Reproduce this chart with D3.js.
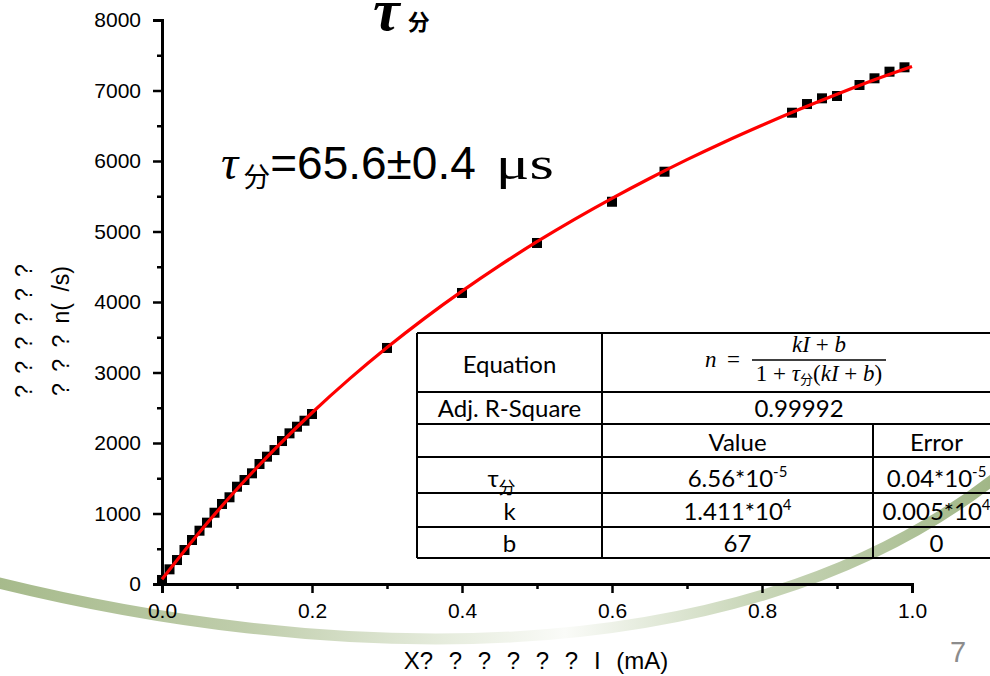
<!DOCTYPE html>
<html>
<head>
<meta charset="utf-8">
<script src="https://cdn.jsdelivr.net/npm/d3@7"></script>
<style>
  body { margin: 0; background: #fff; }
  svg { display: block; }
</style>
</head>
<body>
<div id="chart"></div>
<script>
// measured points: current I (mA) vs count rate n (/s)
var currentI = [0, 0.01, 0.02, 0.03, 0.04, 0.05, 0.06, 0.07, 0.08, 0.09, 0.10,
  0.11, 0.12, 0.13, 0.14, 0.15, 0.16, 0.17, 0.18, 0.19, 0.20,
  0.30, 0.40, 0.50, 0.60, 0.67, 0.84, 0.86, 0.88, 0.90, 0.93, 0.95, 0.97, 0.99]
var countRate = [57, 208, 340, 482, 624, 756, 870, 1011, 1135, 1230, 1380,
  1475, 1570, 1702, 1806, 1900, 2028, 2137, 2231, 2316, 2411,
  3348, 4128, 4837, 5422, 5848, 6685, 6808, 6889, 6922, 7078, 7173, 7267, 7329]

// red fit curve
var fitI = [0, 0.05, 0.1, 0.15, 0.2, 0.25, 0.3, 0.35, 0.4, 0.45, 0.5,
  0.55, 0.6, 0.65, 0.7, 0.75, 0.8, 0.85, 0.9, 0.95, 1.0]
var fitN = [67, 735, 1347, 1910, 2429, 2909, 3354, 3768, 4154, 4516, 4855,
  5172, 5470, 5752, 6019, 6270, 6507, 6733, 6947, 7152, 7340]

var yTicks = [0, 1000, 2000, 3000, 4000, 5000, 6000, 7000, 8000]
var xTicks = [0, 0.2, 0.4, 0.6, 0.8, 1.0]

// fit table
var rowLabels = ["Equation", "Adj. R-Square", "", "τ", "k", "b"]
var valueCells = [null, ["0.99992"], ["Value"], ["6.56*10", "-5"], ["1.411*10", "4"], ["67"]]
var errorCells = [null, null, ["Error"], ["0.04*10", "-5"], ["0.005*10", "4"], ["0"]]

var width = 990, height = 676

var svg = d3.select('#chart')
  .append('svg')
  .attr('width', width)
  .attr('height', height)

svg.append('rect').attr('width', width).attr('height', height).attr('fill', '#fff')

// decorative green swoosh behind the chart
var defs = svg.append('defs')
var grad = defs.append('linearGradient').attr('id', 'swoosh')
  .attr('x1', '0%').attr('x2', '100%').attr('y1', '0%').attr('y2', '0%')
grad.append('stop').attr('offset', '0%').attr('stop-color', '#a6ba8b')
grad.append('stop').attr('offset', '25%').attr('stop-color', '#bfcdab')
grad.append('stop').attr('offset', '45%').attr('stop-color', '#e6ecdd')
grad.append('stop').attr('offset', '57%').attr('stop-color', '#fafbf8')
grad.append('stop').attr('offset', '75%').attr('stop-color', '#cbd8bb')
grad.append('stop').attr('offset', '100%').attr('stop-color', '#a0b686')

svg.append('path')
  .attr('d', 'M -5,582 C 310,660 730,685 995,478')
  .attr('fill', 'none')
  .attr('stroke', 'url(#swoosh)')
  .attr('stroke-width', 11)

var x = d3.scaleLinear().domain([0, 1]).range([162, 912])
var y = d3.scaleLinear().domain([0, 8000]).range([584, 20])

// axes
var yMinor = svg.append('g')
  .attr('transform', 'translate(162,0)')
  .call(d3.axisLeft(y).tickValues(d3.range(500, 8000, 1000)).tickSize(5).tickFormat(''))
var yAxis = svg.append('g')
  .attr('transform', 'translate(162,0)')
  .call(d3.axisLeft(y).tickValues(yTicks).tickSize(9).tickPadding(12).tickFormat(d3.format('d')))

var xMinor = svg.append('g')
  .attr('transform', 'translate(0,584)')
  .call(d3.axisBottom(x).tickValues([0.1, 0.3, 0.5, 0.7, 0.9]).tickSize(5).tickFormat(''))
var xAxis = svg.append('g')
  .attr('transform', 'translate(0,584)')
  .call(d3.axisBottom(x).tickValues(xTicks).tickSize(9).tickPadding(10).tickFormat(d3.format('.1f')))

svg.selectAll('.domain').attr('stroke', '#000').attr('stroke-width', 3)
svg.selectAll('.tick line').attr('stroke', '#000').attr('stroke-width', 2.5)
yMinor.select('.domain').remove()
xMinor.select('.domain').remove()
yAxis.selectAll('text').style('font-family', 'Liberation Sans, Arial, sans-serif').style('font-size', '21px').attr('fill', '#000')
xAxis.selectAll('text').style('font-family', 'Liberation Sans Narrow, Liberation Sans, Arial, sans-serif').style('font-size', '21px').attr('fill', '#000')

// data points
svg.append('g')
  .selectAll('rect')
  .data(currentI)
  .enter()
  .append('rect')
  .attr('x', function (d) { return x(d) - 5 })
  .attr('y', function (d, i) { return y(countRate[i]) - 5 })
  .attr('width', 10)
  .attr('height', 10)
  .attr('fill', '#000')

// fit line
var line = d3.line()
  .x(function (d) { return x(d) })
  .y(function (d, i) { return y(fitN[i]) })
  .curve(d3.curveCatmullRom)
svg.append('path')
  .datum(fitI)
  .attr('d', line)
  .attr('fill', 'none')
  .attr('stroke', '#ff0000')
  .attr('stroke-width', 3.2)

// title (cut at top as in the slide)
var title = svg.append('text').attr('x', 373).attr('y', 30)
title.append('tspan').text('τ')
  .style('font-family', 'Liberation Serif, Times New Roman, serif')
  .style('font-style', 'italic').style('font-weight', 'bold').style('font-size', '60px')
title.append('tspan').text('分').attr('dx', 8)
  .style('font-family', 'Noto Sans CJK SC, sans-serif').style('font-weight', 'bold').style('font-size', '22px')

// big annotation
var ann = svg.append('text').attr('x', 221).attr('y', 179).attr('fill', '#000')
ann.append('tspan').text('τ')
  .style('font-family', 'Liberation Serif, serif').style('font-style', 'italic').style('font-size', '48px')
ann.append('tspan').text('分').attr('dy', 8).attr('dx', 5)
  .style('font-family', 'Noto Sans CJK SC, sans-serif').style('font-size', '27px')
ann.append('tspan').text('=65.6±0.4').attr('dy', -8)
  .style('font-family', 'Liberation Sans, Arial, sans-serif').style('font-size', '46px')
ann.append('tspan').text('μs').attr('dx', 20)
  .attr('textLength', 58).attr('lengthAdjust', 'spacingAndGlyphs')
  .style('font-family', 'Liberation Serif, serif').style('font-size', '46px')

// axis titles
var yLab = svg.append('text')
  .attr('transform', 'translate(0,331) rotate(-90)')
  .attr('text-anchor', 'middle')
  .style('font-family', 'Liberation Sans, Arial, sans-serif')
  .style('font-size', '23px')
  .style('word-spacing', '5px')
yLab.append('tspan').attr('x', 0).attr('y', 32).text('? ? ? ? ? ?')
yLab.append('tspan').attr('x', 0).attr('y', 69).text('? ? ? n( /s)')

svg.append('text')
  .attr('x', 536).attr('y', 669)
  .attr('text-anchor', 'middle')
  .style('font-family', 'Liberation Sans, Arial, sans-serif')
  .style('font-size', '24px')
  .style('word-spacing', '9px')
  .text('X? ? ? ? ? ? I (mA)')

svg.append('text')
  .attr('x', 958).attr('y', 662)
  .attr('text-anchor', 'middle')
  .attr('fill', '#8c8c8c')
  .style('font-family', 'Liberation Sans, Arial, sans-serif')
  .style('font-size', '29px')
  .text('7')

// table
var rowY = [333, 392, 424, 457, 493, 527, 558]
var colX = [417, 602, 873, 996]
var baseY = [373, 417, 451, 487, 520, 552]
var tbl = svg.append('g')
  .style('font-family', 'Lato, Open Sans, sans-serif')
  .style('font-size', '24px')

rowY.forEach(function (ry) {
  tbl.append('line').attr('x1', colX[0]).attr('x2', colX[3]).attr('y1', ry).attr('y2', ry)
    .attr('stroke', '#000').attr('stroke-width', 2)
})
tbl.append('line').attr('x1', colX[0]).attr('x2', colX[0]).attr('y1', rowY[0]).attr('y2', rowY[6]).attr('stroke', '#000').attr('stroke-width', 2)
tbl.append('line').attr('x1', colX[1]).attr('x2', colX[1]).attr('y1', rowY[0]).attr('y2', rowY[6]).attr('stroke', '#000').attr('stroke-width', 2)
tbl.append('line').attr('x1', colX[2]).attr('x2', colX[2]).attr('y1', rowY[2]).attr('y2', rowY[6]).attr('stroke', '#000').attr('stroke-width', 2)

function cellText(cx, by, parts) {
  var t = tbl.append('text').attr('x', cx).attr('y', by).attr('text-anchor', 'middle')
  t.append('tspan').text(parts[0])
  if (parts.length > 1) {
    t.append('tspan').text(parts[1]).attr('dy', -10).style('font-size', '15px')
  }
  return t
}

rowLabels.forEach(function (lab, i) {
  if (lab === '') return
  var t = cellText((colX[0] + colX[1]) / 2 - (lab === 'τ' ? 8 : 0), baseY[i], [lab])
  if (lab === 'τ') {
    t.append('tspan').text('分').attr('dy', 7)
      .style('font-family', 'Noto Sans CJK SC, sans-serif').style('font-size', '17px')
  }
})
valueCells.forEach(function (v, i) {
  if (!v) return
  var cx = i === 1 ? (colX[1] + colX[3]) / 2 : (colX[1] + colX[2]) / 2
  cellText(cx, baseY[i], v)
})
errorCells.forEach(function (v, i) {
  if (!v) return
  cellText((colX[2] + colX[3]) / 2 + 2, baseY[i], v)
})

// equation n = (kI + b) / (1 + τ分(kI + b))
var eq = svg.append('g')
  .style('font-family', 'Liberation Serif, Times New Roman, serif')
  .style('font-size', '23px')
eq.append('text').attr('x', 705).attr('y', 367).style('font-style', 'italic').text('n')
eq.append('text').attr('x', 727).attr('y', 367).text('=')
eq.append('line').attr('x1', 752).attr('x2', 886).attr('y1', 360).attr('y2', 360)
  .attr('stroke', '#000').attr('stroke-width', 1.3)
var num = eq.append('text').attr('x', 819).attr('y', 352).attr('text-anchor', 'middle')
num.append('tspan').style('font-style', 'italic').text('kI')
num.append('tspan').text(' + ')
num.append('tspan').style('font-style', 'italic').text('b')
var den = eq.append('text').attr('x', 819).attr('y', 381).attr('text-anchor', 'middle')
den.append('tspan').text('1 + ')
den.append('tspan').style('font-style', 'italic').text('τ')
den.append('tspan').text('分').attr('dy', 3).style('font-size', '13px').style('font-family', 'Noto Sans CJK SC, sans-serif')
den.append('tspan').text('(').attr('dy', -3)
den.append('tspan').style('font-style', 'italic').text('kI')
den.append('tspan').text(' + ')
den.append('tspan').style('font-style', 'italic').text('b')
den.append('tspan').text(')')
</script>
</body>
</html>
